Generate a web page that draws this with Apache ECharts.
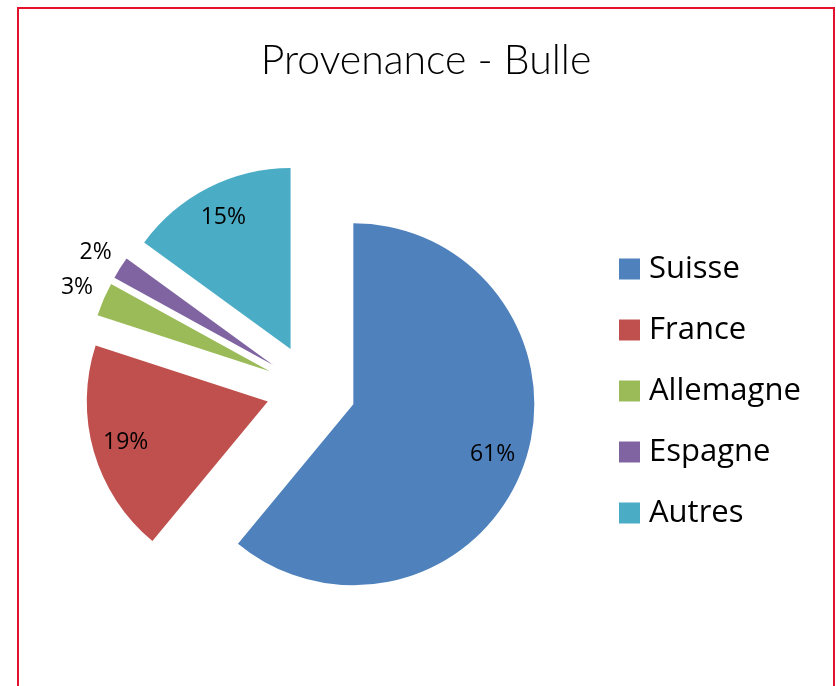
<!DOCTYPE html>
<html>
<head>
<meta charset="utf-8">
<script src="https://cdn.jsdelivr.net/npm/echarts@6/dist/echarts.min.js"></script>
<style>
  html, body { margin: 0; padding: 0; background: #ffffff; }
  #chart { width: 836px; height: 686px; position: absolute; left: 0; top: 0; }
  #frame { position: absolute; left: 17px; top: 7px; width: 818px; height: 720px;
           box-sizing: border-box; border: 2px solid #E4122D; pointer-events: none; }
</style>
</head>
<body>
<div id="chart"></div>
<div id="frame"></div>
<script>
const titleText = 'Provenance - Bulle';
const categories = ['Suisse', 'France', 'Allemagne', 'Espagne', 'Autres'];
const values = [61, 19, 3, 2, 15];
const colors = ['#4F81BD', '#C0504D', '#9BBB59', '#8064A2', '#4BACC6'];
const insideLabelIdx = [0, 1, 4];
const outsideLabelIdx = [2, 3];

const chart = echarts.init(document.getElementById('chart'), null, { renderer: 'canvas' });

const center = [311, 389];
const R = 181;
const offset = 45;

function labelSeries(radius, showIdx) {
  return {
    type: 'pie',
    center: center,
    radius: radius,
    startAngle: 90,
    clockwise: true,
    silent: true,
    selectedMode: 'multiple',
    selectedOffset: offset,
    avoidLabelOverlap: false,
    animation: false,
    emphasis: { disabled: true },
    itemStyle: { color: 'rgba(0,0,0,0)', borderWidth: 0 },
    label: {
      show: true,
      position: 'inside',
      color: '#000000',
      fontFamily: 'Open Sans',
      fontSize: 23,
      formatter: function (p) {
        return showIdx.indexOf(p.dataIndex) >= 0 ? Math.round(p.percent) + '%' : '';
      }
    },
    labelLine: { show: false },
    data: categories.map(function (n, i) {
      return { name: n, value: values[i], selected: true };
    })
  };
}

const option = {
  backgroundColor: '#ffffff',
  animation: false,
  title: {
    text: titleText,
    left: 426,
    textAlign: 'center',
    top: 40,
    padding: 0,
    textStyle: { fontFamily: 'Lato', fontWeight: 300, fontSize: 41, color: '#000000' }
  },
  legend: {
    orient: 'vertical',
    left: 619,
    top: 249,
    padding: 0,
    itemWidth: 21,
    itemHeight: 21,
    itemGap: 21,
    icon: 'rect',
    selectedMode: false,
    data: categories.map(function (n, i) { return { name: n, itemStyle: { color: colors[i] } }; }),
    textStyle: { fontFamily: 'Open Sans', fontSize: 31, lineHeight: 40, color: '#000000', padding: [0, 0, 0, 4] }
  },
  series: [
    {
      type: 'pie',
      center: center,
      radius: R,
      startAngle: 90,
      clockwise: true,
      selectedMode: 'multiple',
      selectedOffset: offset,
      animation: false,
      emphasis: { disabled: true },
      label: { show: false },
      labelLine: { show: false },
      data: categories.map(function (n, i) {
        return { name: n, value: values[i], selected: true, itemStyle: { color: colors[i] } };
      })
    },
    labelSeries([109, R], insideLabelIdx),
    labelSeries([192, 222], outsideLabelIdx)
  ]
};

chart.setOption(option);
</script>
</body>
</html>
